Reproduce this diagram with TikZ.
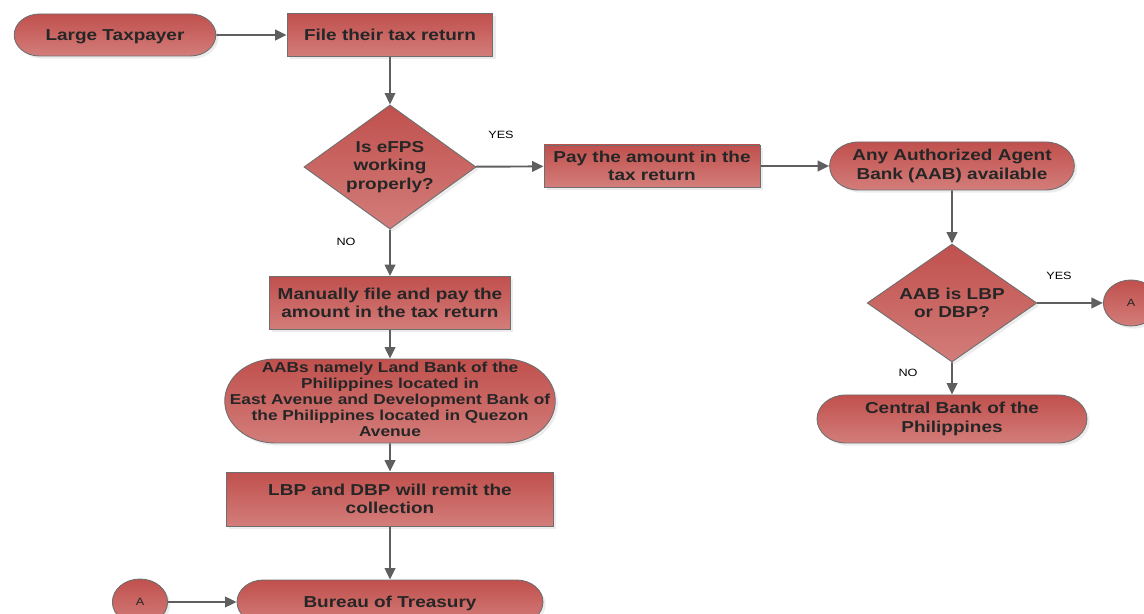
\documentclass[tikz,border=0pt]{standalone}
\usepackage{fontspec}
\setmainfont{Liberation Sans}
\usetikzlibrary{shapes.geometric,shapes.misc,shadows,arrows.meta}
\definecolor{boxtop}{RGB}{192,80,77}
\definecolor{boxbot}{RGB}{211,125,122}
\definecolor{edge}{RGB}{110,110,110}
\definecolor{wire}{RGB}{95,95,95}
\definecolor{ink}{RGB}{38,38,38}
\begin{document}
\begin{tikzpicture}[x=0.02cm,y=-0.02cm,
	base/.style={xscale=1.2,draw=edge,line width=0.5pt,top color=boxtop,bottom color=boxbot,text=ink,
		font=\fontsize{9}{10.5}\selectfont\bfseries,align=center,inner sep=1pt,
		drop shadow={shadow xshift=1.5pt,shadow yshift=-1.5pt,fill=black!15}},
	proc/.style={base,rectangle},
	term/.style={base,rounded rectangle},
	dec/.style={base,diamond,inner sep=0pt},
	conn/.style={base,circle,font=\fontsize{6}{7}\selectfont,minimum size=0.92cm},
	lbl/.style={xscale=1.2,font=\fontsize{6}{7}\selectfont,text=black},
	flow/.style={draw=wire,line width=1.1pt,-{Triangle[length=6.5pt,width=6pt]}}]
	\useasboundingbox (0,0) rectangle (1144,614);
	\node[term,minimum width=3.43cm,minimum height=0.84cm,text depth=0pt] (tax) at (115,35) {Large Taxpayer};
	\node[proc,minimum width=3.43cm,minimum height=0.86cm] (file) at (390,35) {File their tax return};
	\node[dec,minimum width=2.87cm,minimum height=2.24cm] (efps) at (390,167) {Is eFPS\\working\\properly?};
	\node[proc,minimum width=3.6cm,minimum height=0.84cm] (pay) at (652,166) {Pay the amount in the\\tax return};
	\node[term,minimum width=4.15cm,minimum height=0.96cm] (aab) at (952,166) {Any Authorized Agent\\Bank (AAB) available};
	\node[dec,minimum width=2.83cm,minimum height=2.24cm] (lbpdbp) at (952,303) {AAB is LBP\\or DBP?};
	\node[conn] (ar) at (1131,303) {A};
	\node[term,minimum width=4.57cm,minimum height=0.96cm] (cbp) at (952,419) {Central Bank of the\\Philippines};
	\node[proc,minimum width=4.02cm,minimum height=1.06cm] (manual) at (390,303) {Manually file and pay the\\amount in the tax return};
	\node[term,minimum width=5.58cm,minimum height=1.68cm,font=\fontsize{8.2}{9.1}\selectfont\bfseries] (banks) at (390,401)
		{\makebox[0pt]{\begin{tabular}{@{}c@{}}AABs namely Land Bank of the\\Philippines located in\\East Avenue and Development Bank of\\the Philippines located in Quezon\\Avenue\end{tabular}}};
	\node[proc,minimum width=5.45cm,minimum height=1.08cm] (remit) at (390,499) {LBP and DBP will remit the\\collection};
	\node[term,minimum width=5.17cm,minimum height=0.88cm,text depth=0pt] (bot) at (390,602) {Bureau of Treasury};
	\node[conn] (al) at (140,602) {A};
	\draw (501,135) node[lbl]{YES};
	\draw (346,242) node[lbl]{NO};
	\draw (1059,276) node[lbl]{YES};
	\draw (908,373) node[lbl]{NO};
	\draw[flow] (tax) -- (file);
	\draw[flow] (file) -- (efps);
	\draw[flow] (efps) -- (pay);
	\draw[flow] (pay) -- (aab);
	\draw[flow] (aab) -- (lbpdbp);
	\draw[flow] (lbpdbp) -- (ar);
	\draw[flow] (lbpdbp) -- (cbp);
	\draw[flow] (efps) -- (manual);
	\draw[flow] (manual) -- (banks);
	\draw[flow] (banks) -- (remit);
	\draw[flow] (remit) -- (bot);
	\draw[flow] (al) -- (bot);
\end{tikzpicture}
\end{document}
